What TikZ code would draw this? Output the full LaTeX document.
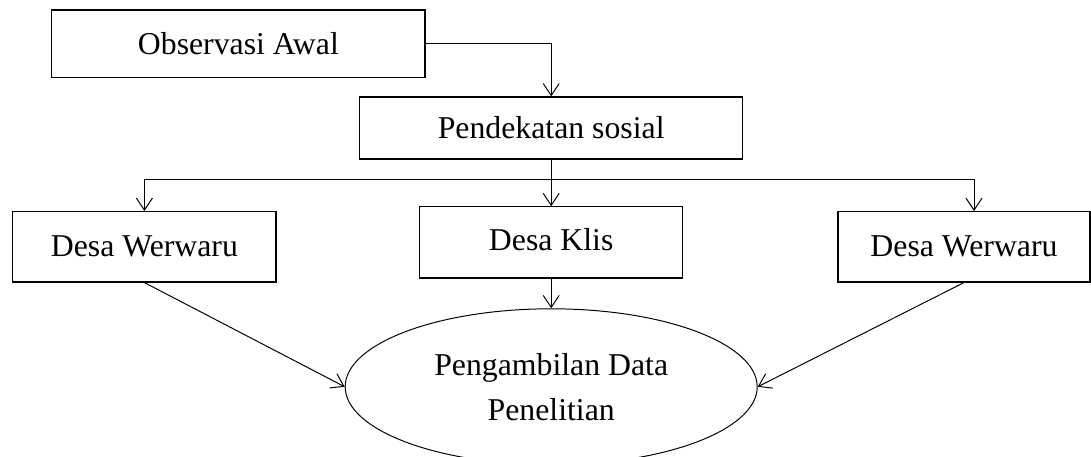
\documentclass[tikz,border=0pt]{standalone}
\usepackage{fontspec}
\setmainfont{Liberation Serif}
\usetikzlibrary{shapes.geometric, arrows.meta, positioning, calc}

\begin{document}
\begin{tikzpicture}[
    font=\fontsize{22.6}{32}\selectfont,
    % Boxes and the final ellipse
    box/.style={draw=black, line width=0.8pt, minimum width=6.58cm, minimum height=1.76cm, align=center},
    hasil/.style={ellipse, draw=black, line width=0.7pt, minimum width=10.3cm, minimum height=3.9cm, inner sep=0pt, align=center},
    % Connectors
    arr/.style={line width=0.7pt, -{Straight Barb[length=3mm,width=4mm]}}
]
\useasboundingbox (0,0) rectangle (27.275,11.4);

% ===============================
% Top: observation and approach
% ===============================
\node[box, minimum width=9.33cm, minimum height=1.68cm] (obs) at (5.96, 10.31) {Observasi Awal};
\node[box, minimum width=9.58cm, minimum height=1.55cm] (pend) at (13.78, 8.2) {Pendekatan sosial};

\draw[arr] (obs.east) -| (pend.north);

% ===============================
% Middle: villages
% ===============================
\node[box] (desa1) at (3.61, 5.23) {Desa Werwaru};
\node[box, minimum height=1.78cm] (klis) at (13.78, 5.34) {\raisebox{4pt}{Desa Klis}};
\node[box, minimum width=6.3cm] (desa2) at (24.1, 5.23) {Desa Werwaru};

% Branching
\coordinate (split) at (13.78, 6.925);
\draw[arr] (pend.south) -- (klis.north);
\draw[arr] (split) -| (desa1.north);
\draw[arr] (split) -| ([xshift=0.25cm]desa2.north);

% ===============================
% Bottom: data collection
% ===============================
\node[hasil] (data) at (13.78, 1.73) {Pengambilan Data\\Penelitian};

\draw[arr] (desa1.south) -- (data.west);
\draw[arr] (klis.south) -- (data.north);
\draw[arr] (desa2.south) -- (data.east);

\end{tikzpicture}
\end{document}
